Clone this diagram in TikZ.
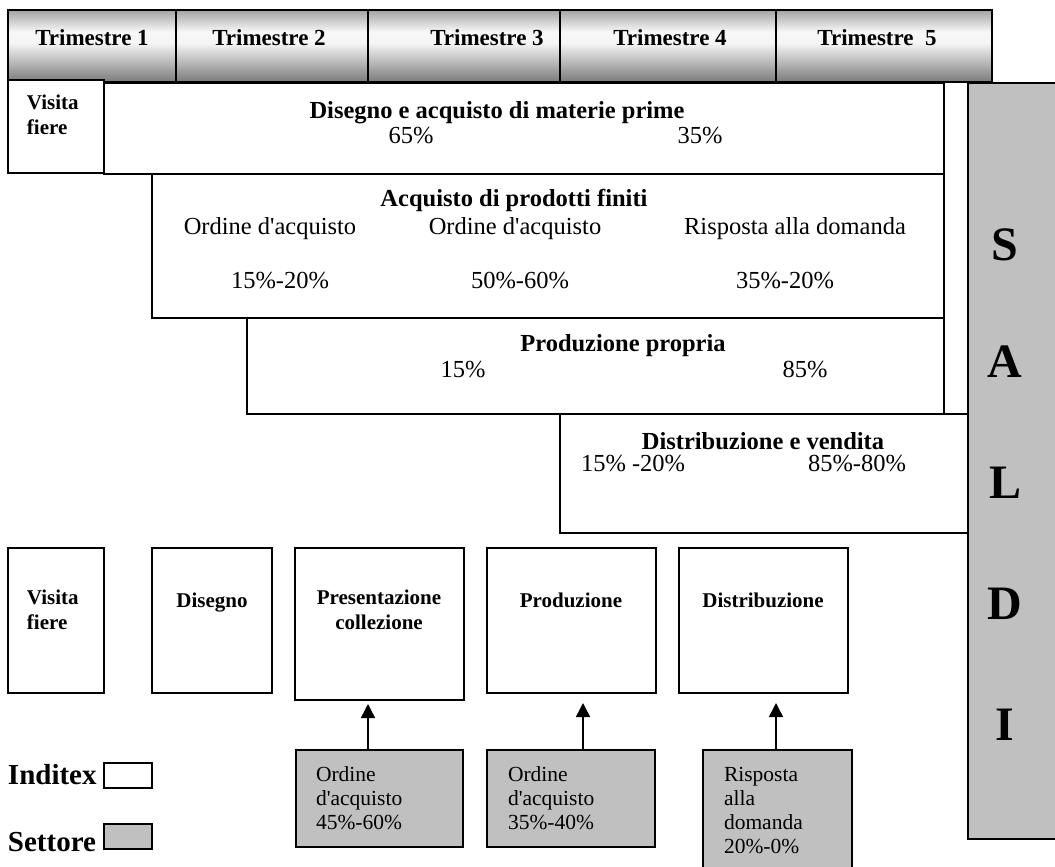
\documentclass[tikz,border=0pt]{standalone}
\usepackage{fontspec}
\setmainfont{Liberation Serif}[Ligatures=TeXOff]
\usetikzlibrary{arrows.meta}
\definecolor{silver}{RGB}{192,192,192}
\pgfdeclareverticalshading{hdrshade}{100bp}{color(0bp)=(black!52); color(25bp)=(black!52); color(52bp)=(black!4); color(60bp)=(black!3); color(75bp)=(black!36); color(100bp)=(black!36)}
\newcommand\rbox[6]{\node[#1, minimum width={(#4-#2)*1pt}, minimum height={(#5-#3)*1pt}] (#6) at (#2,#3) {};}
\begin{document}
\begin{tikzpicture}[x=1pt,y=-1pt,
  box/.style={draw=black, line width=1.5pt, fill=white, inner sep=0pt, outer sep=0pt, anchor=north west},
  gbox/.style={box, fill=silver},
  hdr/.style={draw=black, line width=1.5pt, inner sep=0pt, outer sep=0pt, anchor=north west, shade, shading=hdrshade},
  t/.style={inner sep=0pt, outer sep=0pt, anchor=base},
  tl/.style={t, anchor=base west},
  fhead/.style={font=\fontsize{23}{27}\selectfont\bfseries},
  ftitle/.style={font=\fontsize{24.5}{29}\selectfont\bfseries},
  ftxt/.style={font=\fontsize{24.5}{28}\selectfont},
  fsb/.style={font=\fontsize{21}{24}\selectfont\bfseries},
  fgray/.style={font=\fontsize{21.5}{24}\selectfont},
  fleg/.style={font=\fontsize{29}{34}\selectfont\bfseries},
  fsaldi/.style={font=\fontsize{48}{56}\selectfont\bfseries},
  arr/.style={line width=1.5pt, -{Triangle[width=14pt,length=14pt]}}
]
\useasboundingbox (0,0) rectangle (1055,867);
\clip (0,0) rectangle (1055,867);
% header
\rbox{hdr}{8}{10}{176}{82}{h1}
\rbox{hdr}{176}{10}{368}{82}{h2}
\rbox{hdr}{368}{10}{560}{82}{h3}
\rbox{hdr}{560}{10}{776}{82}{h4}
\rbox{hdr}{776}{10}{992}{82}{h5}
\node[t,fhead] (th1) at (92,46) {Trimestre 1};
\node[t,fhead] (th2) at (269,46) {Trimestre 2};
\node[t,fhead] (th3) at (487,46) {Trimestre 3};
\node[t,fhead] (th4) at (670,46) {Trimestre 4};
\node[t,fhead] (th5) at (877,46) {Trimestre~~5};
% SALDI
\rbox{gbox}{968}{83}{1080}{839}{saldi}
\node[t,fsaldi] (sS) at (1005,260) {S};
\node[t,fsaldi] (sA) at (1005,377) {A};
\node[t,fsaldi] (sL) at (1005,498) {L};
\node[t,fsaldi] (sD) at (1005,619) {D};
\node[t,fsaldi] (sI) at (1005,740) {I};
% top timeline boxes
\rbox{box}{104}{83}{944}{174}{dis}
\rbox{box}{8}{80}{104}{173}{vf1}
\node[tl,fsb] (vf1a) at (27,110) {Visita};
\node[tl,fsb] (vf1b) at (27,134) {fiere};
\node[t,ftitle] (dist) at (497,118) {Disegno e acquisto di materie prime};
\node[t,ftxt] (dp1) at (411,143) {65\%};
\node[t,ftxt] (dp2) at (700,143) {35\%};
\rbox{box}{152}{174}{944}{318}{acq}
\node[t,ftitle] (acqt) at (514,206) {Acquisto di prodotti finiti};
\node[t,ftxt] (ao1) at (270,234) {Ordine d'acquisto};
\node[t,ftxt] (ao2) at (515,234) {Ordine d'acquisto};
\node[t,ftxt] (ao3) at (795,234) {Risposta alla domanda};
\node[t,ftxt] (ap1) at (280,288) {15\%-20\%};
\node[t,ftxt] (ap2) at (520,288) {50\%-60\%};
\node[t,ftxt] (ap3) at (785,288) {35\%-20\%};
\rbox{box}{247}{318}{944}{414}{prod}
\node[t,ftitle] (prodt) at (623,351) {Produzione propria};
\node[t,ftxt] (pp1) at (463,377) {15\%};
\node[t,ftxt] (pp2) at (805,377) {85\%};
\rbox{box}{560}{414}{968}{533}{dv}
\node[t,ftitle] (dvt) at (763,449) {Distribuzione e vendita};
\node[tl,ftxt] (dv1) at (581,471) {15\% -20\%};
\node[tl,ftxt] (dv2) at (808,471) {85\%-80\%};
% bottom row
\rbox{box}{8}{548}{104}{693}{b1}
\rbox{box}{152}{548}{272}{693}{b2}
\rbox{box}{295}{548}{464}{700}{b3}
\rbox{box}{487}{548}{656}{693}{b4}
\rbox{box}{679}{548}{848}{693}{b5}
\node[tl,fsb] (b1a) at (27,604) {Visita};
\node[tl,fsb] (b1b) at (27,629) {fiere};
\node[t,fsb] (b2t) at (212,607) {Disegno};
\node[t,fsb] (b3a) at (379,604) {Presentazione};
\node[t,fsb] (b3b) at (379,629) {collezione};
\node[t,fsb] (b4t) at (571,607) {Produzione};
\node[t,fsb] (b5t) at (763,607) {Distribuzione};
% gray boxes
\rbox{gbox}{296}{750}{463}{847}{g1}
\rbox{gbox}{487}{750}{655}{847}{g2}
\rbox{gbox}{703}{750}{852}{890}{g3}
\node[tl,fgray] (g1a) at (316,781) {Ordine};
\node[tl,fgray] (g1b) at (316,805) {d'acquisto};
\node[tl,fgray] (g1c) at (316,829) {45\%-60\%};
\node[tl,fgray] (g2a) at (508,781) {Ordine};
\node[tl,fgray] (g2b) at (508,805) {d'acquisto};
\node[tl,fgray] (g2c) at (508,829) {35\%-40\%};
\node[tl,fgray] (g3a) at (724,781) {Risposta};
\node[tl,fgray] (g3b) at (724,805) {alla};
\node[tl,fgray] (g3c) at (724,829) {domanda};
\node[tl,fgray] (g3d) at (724,853) {20\%-0\%};
% arrows
\draw[arr, shorten >=4pt] ([xshift=-11.5pt]g1.north) -- ([xshift=-11.5pt]g1.north |- b3.south);
\draw[arr, shorten >=10pt] ([xshift=12pt]g2.north) -- ([xshift=12pt]g2.north |- b4.south);
\draw[arr, shorten >=10pt] ([xshift=-1.5pt]g3.north) -- ([xshift=-1.5pt]g3.north |- b5.south);
% legend
\node[tl,fleg] (li) at (8,784) {Inditex};
\rbox{box}{104}{763}{152}{788}{lib}
\node[tl,fleg] (ls) at (8,851) {Settore};
\rbox{gbox}{104}{824}{152}{849}{lsb}
\end{tikzpicture}
\end{document}
